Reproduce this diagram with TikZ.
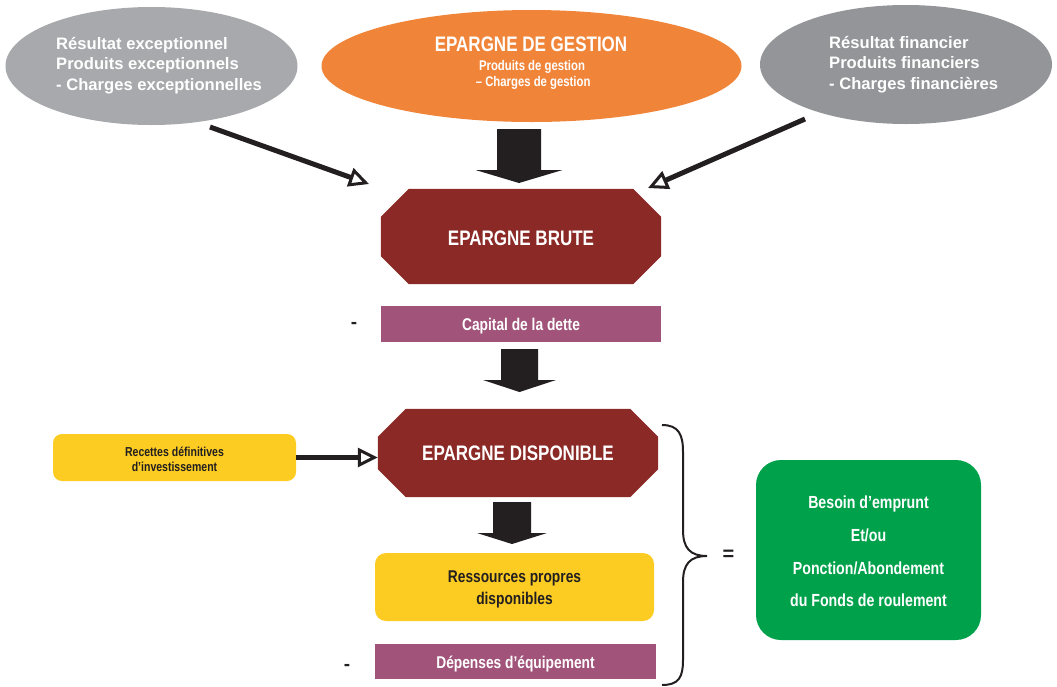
\documentclass[tikz,border=0pt]{standalone}
\usepackage{fontspec}
\setmainfont{Liberation Sans}
\newfontfamily\narrow{Liberation Sans}[FakeStretch=0.81]
\usetikzlibrary{shapes.geometric,arrows.meta,calc,backgrounds}
\definecolor{grayL}{HTML}{A7A9AC}
\definecolor{grayR}{HTML}{939598}
\definecolor{orangeG}{HTML}{F0853A}
\definecolor{brick}{HTML}{8B2926}
\definecolor{plum}{HTML}{A1537A}
\definecolor{sun}{HTML}{FCCC22}
\definecolor{leaf}{HTML}{00A14B}
\definecolor{ink}{HTML}{231F20}
\newcommand\octofill[2]{%
  \begin{pgfonlayer}{background}
  \fill[brick] ($(#1.north west)+(#2,0)$) -- ($(#1.north east)+(-#2,0)$) -- ($(#1.north east)+(0,#2)$) -- ($(#1.south east)+(0,-#2)$) -- ($(#1.south east)+(-#2,0)$) -- ($(#1.south west)+(#2,0)$) -- ($(#1.south west)+(0,-#2)$) -- ($(#1.north west)+(0,#2)$) -- cycle;
  \end{pgfonlayer}}
\newcommand\blockarrow[6]{%
  \fill[ink] (#1-#3,#2) -- (#1+#3,#2) -- (#1+#3,#4) -- (#1+#5,#4) -- (#1,#6) -- (#1-#5,#4) -- (#1-#3,#4) -- cycle;}
\begin{document}
\begin{tikzpicture}[x=1pt,y=-1pt,
  oval/.style={ellipse, inner sep=0, draw=none},
  graytext/.style={text=white, font=\bfseries\fontsize{16.6}{20.3}\selectfont, align=left, anchor=west, inner sep=0},
  octo/.style={rectangle, inner sep=0, text=white, font=\narrow\bfseries\fontsize{21}{24}\selectfont},
  band/.style={rectangle, fill=plum, inner sep=0, text=white, font=\narrow\bfseries\fontsize{17}{20}\selectfont},
  sunbox/.style={rectangle, fill=sun, inner sep=0, text=ink, align=center},
  thinarrow/.style={draw=ink, line width=5pt, -{Triangle[open, length=20pt, width=19pt, line width=3pt]}},
  minus/.style={text=ink, inner sep=0, font=\bfseries\fontsize{19}{22}\selectfont},
  label/.style={inner sep=0}
]
\useasboundingbox (0,0) rectangle (1057,686);

% top ellipses
\node[oval, fill=grayL, minimum width=292, minimum height=118] (exc) at (151.5,66) {};
\node[graytext] (exctxt) at (56,65.5) {Résultat exceptionnel\\Produits exceptionnels\\- Charges exceptionnelles};

\node[oval, fill=orangeG, minimum width=420, minimum height=112] (gest) at (531.5,66) {};
\node[text=white, inner sep=0, anchor=base, font=\narrow\bfseries\fontsize{21}{24}\selectfont] (gesttitle) at (531,51.5) {EPARGNE DE GESTION};
\node[text=white, inner sep=0, align=center, font=\narrow\bfseries\fontsize{14}{16}\selectfont] (gestsub) at (532,75) {Produits de gestion\\\,– Charges de gestion};

\node[oval, fill=grayR, minimum width=292, minimum height=119] (fin) at (906,64.5) {};
\node[graytext] (fintxt) at (829,64.5) {Résultat financier\\Produits financiers\\- Charges financières};

% block arrow 1
\blockarrow{519}{129}{22}{170}{43.5}{183}

% octagon brute
\node[octo, minimum width=280, minimum height=95] (brute) at (521,236.5) {};
\node[octo] (brutetxt) at (brute.center) [yshift=-2pt] {EPARGNE BRUTE};
\octofill{brute}{28}

% diagonal arrows
\coordinate (a1s) at (210,127);
\coordinate (a1e) at (369,184);
\draw[thinarrow] (a1s) -- (a1e);
\coordinate (a2s) at (805,119);
\coordinate (a2e) at (648,188);
\draw[thinarrow] (a2s) -- (a2e);

% capital
\node[band, minimum width=280, minimum height=36] (capital) at (521,324) {};
\node[band, fill=none] (captxt) at (521,326) {Capital de la dette};
\node[minus] (m1) at (354,325.5) {-};

% block arrow 2
\blockarrow{519.5}{349}{18.5}{380}{36.5}{392}

% octagon dispo
\node[octo, minimum width=280, minimum height=88] (dispo) at (518,453) {EPARGNE DISPONIBLE};
\octofill{dispo}{28}

% recettes
\node[sunbox, rounded corners=9pt, minimum width=243, minimum height=47] (rec) at (174.5,457.5) {};
\node[label, align=center, text=ink, font=\narrow\bfseries\fontsize{13}{15}\selectfont] (rectxt) at (174.5,459.5) {Recettes définitives\\d’investissement};
\draw[thinarrow] (rec.east) -- (rec.east -| dispo.west);

% block arrow 3
\blockarrow{512}{502}{19}{533}{35}{544}

% ressources
\node[sunbox, rounded corners=11pt, minimum width=279, minimum height=68] (ress) at (514.5,587) {};
\node[label, align=center, text=ink, font=\narrow\bfseries\fontsize{17}{22}\selectfont] (resstxt) at (514.5,589.5) {Ressources propres\\disponibles};

% depenses
\node[band, minimum width=281, minimum height=35] (dep) at (515.5,661.5) {};
\node[band, fill=none] (deptxt) at (515.5,664.5) {Dépenses d’équipement};
\node[minus] (m2) at (347,667) {-};

% brace
\draw[ink, line width=2pt] (662,425) .. controls (679,425) and (683,435) .. (683,452) -- (683,530) .. controls (683,548) and (690,556) .. (707,556) .. controls (690,556) and (683,564) .. (683,582) -- (683,660) .. controls (683,677) and (679,685) .. (662,685);

\node[text=ink, inner sep=0, font=\bfseries\fontsize{20}{24}\selectfont] (eq) at (728.5,555.5) {=};

% green box
\node[rectangle, rounded corners=25pt, fill=leaf, minimum width=225, minimum height=180, inner sep=0] (besoin) at (868.5,550) {};
\node[label, text=white, align=center, font=\narrow\bfseries\fontsize{17.5}{32.7}\selectfont] (besointxt) at (868.5,551.5) {Besoin d’emprunt\\Et/ou\\Ponction/Abondement\\du Fonds de roulement};
\end{tikzpicture}
\end{document}
